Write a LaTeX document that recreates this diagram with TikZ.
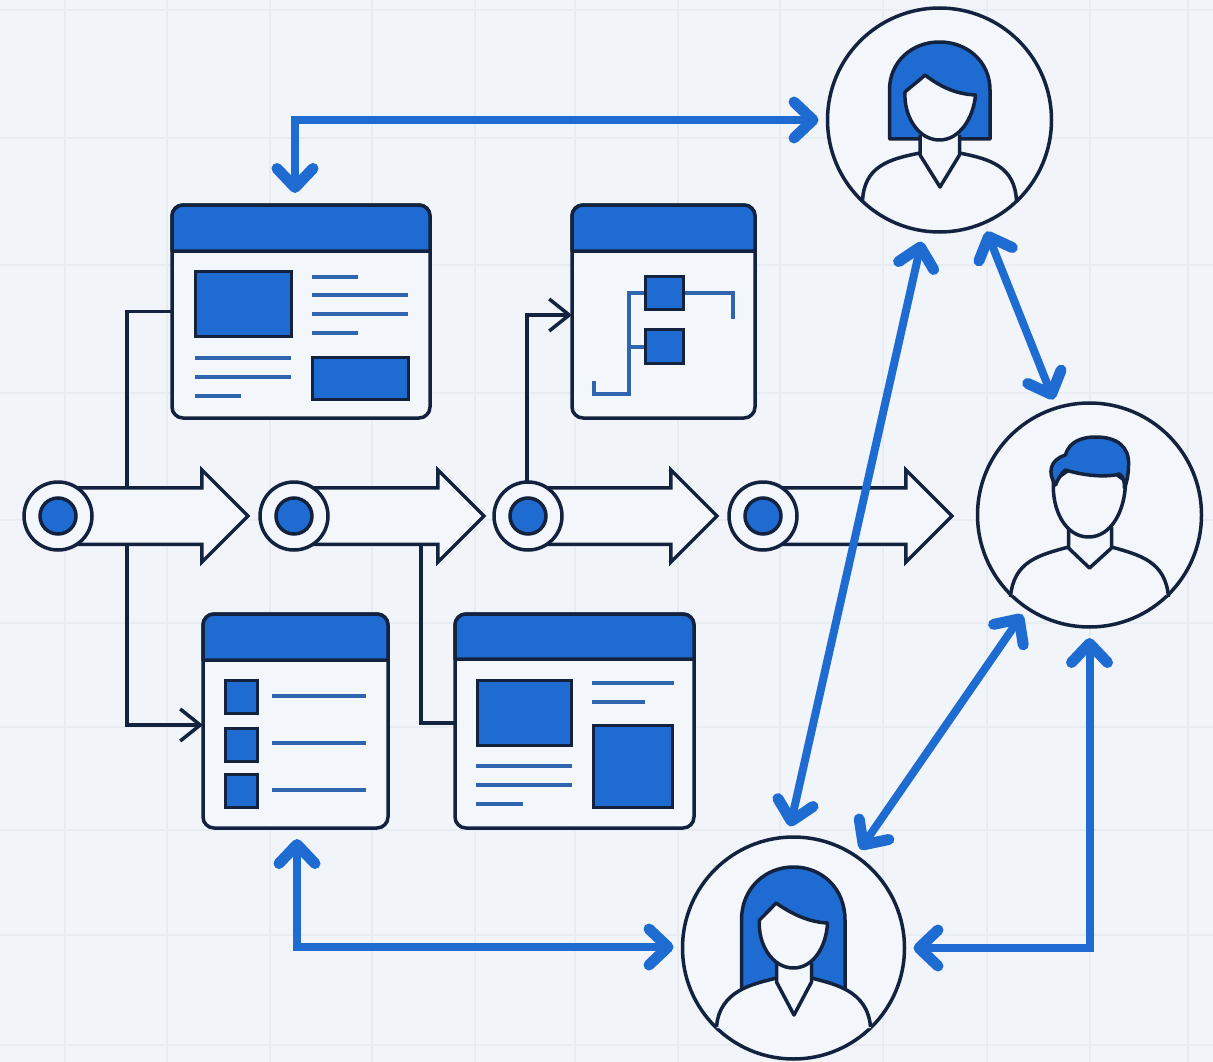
\documentclass[tikz,border=0pt]{standalone}
\usetikzlibrary{arrows.meta,shapes.arrows,calc}
\definecolor{bgc}{HTML}{F1F5FA}
\definecolor{gridc}{HTML}{E7ECF3}
\definecolor{inkc}{HTML}{13233F}
\definecolor{bluec}{HTML}{1E6CD2}
\definecolor{linec}{HTML}{2F65AE}
\definecolor{paperc}{HTML}{F3F6FA}
\tikzset{
  x=1pt,y=-1pt,
  gridline/.style={gridc,line width=1.2pt},
  windowbox/.style={draw=inkc,fill=paperc,line width=3.5pt,rounded corners=11pt,inner sep=0pt,outer sep=0pt},
  headerbar/.style={draw=inkc,fill=bluec,line width=3.5pt,line join=round},
  tile/.style={draw=inkc,fill=bluec,line width=3pt},
  textline/.style={linec,line width=4.5pt},
  personring/.style={circle,draw=inkc,fill=paperc,line width=3.5pt,minimum size=224pt,inner sep=0pt,outer sep=0pt},
  personline/.style={draw=inkc,fill=paperc,line width=3.5pt,line join=round},
  hairfill/.style={draw=inkc,fill=bluec,line width=3.5pt,line join=round},
  flowarrow/.style={single arrow,draw=inkc,fill=paperc,line width=3.5pt,minimum height=190pt,single arrow head extend=18pt,single arrow tip angle=90,single arrow head indent=0pt,inner xsep=0pt,inner ysep=26.5pt,outer sep=0pt,anchor=tip},
  stepring/.style={circle,draw=inkc,fill=paperc,line width=3.5pt,minimum size=68pt,inner sep=0pt,outer sep=0pt},
  stepdot/.style={circle,draw=inkc,fill=bluec,line width=3.5pt,minimum size=36pt,inner sep=0pt,outer sep=0pt},
  thinflow/.style={inkc,line width=3.5pt,line join=miter},
  thintip/.style={-{Straight Barb[length=20pt,width=32pt,line width=3.5pt]}},
  linkflow/.style={bluec,line width=8pt,line join=miter,
    {Straight Barb[length=19pt,width=36pt,line width=11pt,round]}-{Straight Barb[length=19pt,width=36pt,line width=11pt,round]}},
}
% #1 name, #2 left, #3 top, #4 right, #5 bottom, #6 header bottom
\newcommand{\windownode}[6]{%
  \node[windowbox,minimum width={#4-#2},minimum height={#5-#3},anchor=north west] (#1) at (#2,#3) {};
  \draw[headerbar] (#2,#6) -- (#2,#3+11) .. controls (#2,#3+5) and (#2+5,#3) .. (#2+11,#3) -- (#4-11,#3) .. controls (#4-5,#3) and (#4,#3+5) .. (#4,#3+11) -- (#4,#6) -- cycle;
}
\begin{document}
\begin{tikzpicture}
\useasboundingbox (0,0) rectangle (1213,1062);
\fill[bgc] (0,0) rectangle (1213,1062);
\foreach \gx in {65,167,270,372,475,575,678,780,883,987,1090,1188}
  \draw[gridline] (\gx,0) -- (\gx,1062);
\foreach \gy in {10,138,265,393,520,623,727,830,935,1045}
  \draw[gridline] (0,\gy) -- (1213,\gy);

% windows
\windownode{winA}{172}{205}{430}{418}{251}
\windownode{winB}{572}{205}{755}{418}{251}
\windownode{winC}{203}{614}{388}{828}{660}
\windownode{winD}{455}{614}{694}{828}{659}

% persons
\node[personring] (pT) at (939.5,120) {};
\node[personring] (pR) at (1089.5,515) {};
\node[personring,minimum size=222pt] (pB) at (793.5,948) {};

% thin branches (behind the flow arrows)
\coordinate (stemA) at (127,516);
\coordinate (stemB) at (421,516);
\draw[thinflow,thintip] (winA.west) -- (stemA |- winA.west) -- (stemA |- 0,725) -- (winC.west |- 0,725);
\draw[thinflow] (stemB) -- (stemB |- 0,723) -- (winD.west |- 0,723);
\coordinate (stemC) at (527,516);
\draw[thinflow,thintip] (stemC) -- (stemC |- 0,315) -- (winB.west |- 0,315);

% flow arrows and step rings
\foreach \nm/\tipx in {fA/248,fB/484,fC/717,fD/952}
  \node[flowarrow] (\nm) at (\tipx,516) {};
\foreach \nm/\cx in {sA/58,sB/294,sC/528,sD/763}{
  \node[stepring] (\nm) at (\cx,516) {};
  \node[stepdot] (\nm d) at (\cx,516) {};
}

% window contents: winA
\draw[tile] (195,271) rectangle (291,336);
\draw[tile] (312,357) rectangle (408,399);
\draw[textline] (312,277) -- (358,277);
\draw[textline] (312,295) -- (408,295);
\draw[textline] (312,314) -- (408,314);
\draw[textline] (312,333) -- (358,333);
\draw[textline] (195,358) -- (291,358);
\draw[textline] (195,377) -- (291,377);
\draw[textline] (195,396) -- (241,396);
% winB
\draw[linec,line width=4.5pt,line join=miter] (594,381) -- (594,394) -- (629,394) -- (629,293) -- (733,293) -- (733,319);
\draw[linec,line width=4.5pt] (629,347) -- (645,347);
\draw[tile] (645,276) rectangle (683,309);
\draw[tile] (645,329) rectangle (683,363);
% winC
\foreach \ty in {680,728,774}{
  \draw[tile] (225,\ty) rectangle (257,\ty+33);
}
\foreach \ty in {696,743,790}{
  \draw[textline] (272,\ty) -- (366,\ty);
}
% winD
\draw[tile] (477,680) rectangle (571,745);
\draw[tile] (593,725) rectangle (672,807);
\draw[textline] (592,683) -- (674,683);
\draw[textline] (592,702) -- (645,702);
\draw[textline] (476,766) -- (572,766);
\draw[textline] (476,785) -- (572,785);
\draw[textline] (476,804) -- (523,804);

% person top (woman, short hair)
\begin{scope}[shift={(pT.center)}]
  \draw[hairfill] (-50,19) -- (-50,-30) .. controls (-50,-58) and (-28,-78) .. (0,-78) .. controls (28,-78) and (50.5,-58) .. (50.5,-30) -- (50.5,19) -- cycle;
  \draw[personline] (-19.5,33) .. controls (-50,39) and (-76,46) .. (-77,82);
  \draw[personline] (20,33) .. controls (50,39) and (76,46) .. (77,82);
  \draw[personline] (-19.5,15) -- (-19.5,35) -- (0.5,67) -- (20,35) -- (20,15);
  \draw[personline] (-14.5,-45) .. controls (-22,-38) and (-28,-34) .. (-34.5,-28) .. controls (-36,-5) and (-22,20) .. (0,20) .. controls (20,20) and (34,-2) .. (36,-25) .. controls (15,-26) and (0,-34) .. (-14.5,-45) -- cycle;
\end{scope}
% person right (man)
\begin{scope}[shift={(pR.center)}]
  \draw[personline] (-21,32) .. controls (-50,40) and (-76,46) .. (-79,82);
  \draw[personline] (22,32) .. controls (50,40) and (76,46) .. (79,82);
  \draw[personline] (-21,12) -- (-21,33) -- (0,53) -- (22,33) -- (22,12);
  \draw[personline] (-36,-34) .. controls (-38,-5) and (-24,22) .. (-1,22) .. controls (22,22) and (36,-5) .. (36,-34) -- (0,-60) -- cycle;
  \draw[hairfill] (-34,-30) .. controls (-42,-42) and (-40,-55) .. (-24,-60) .. controls (-20,-75) and (-5,-78) .. (6,-78) .. controls (28,-78) and (40,-68) .. (39,-50) .. controls (39,-42) and (38,-35) .. (35,-27) .. controls (35,-34) and (34,-38) .. (30,-41) .. controls (15,-37) and (-8,-40) .. (-24,-45) .. controls (-28,-42) and (-31,-37) .. (-34,-30) -- cycle;
\end{scope}
% person bottom (woman, long hair)
\begin{scope}[shift={(pB.center)}]
  \draw[hairfill] (-52,42) -- (-52,-28) .. controls (-52,-60) and (-28,-81) .. (0,-81) .. controls (28,-81) and (51.5,-60) .. (51.5,-28) -- (51.5,42) -- cycle;
  \draw[fill=paperc,draw=none] (-77,80) -- (-73,52) -- (-17,30) -- (18,30) -- (73,52) -- (77,80) -- cycle;
  \fill[paperc] (-77,60) rectangle (77,80);
  \draw[personline] (-17,30) .. controls (-40,36) and (-74,42) .. (-77,79);
  \draw[personline] (18,30) .. controls (40,36) and (74,42) .. (77,79);
  \draw[personline] (-17,15) -- (-17,34) -- (0.5,67) -- (18,34) -- (18,15);
  \draw[personline] (-17.5,-45) .. controls (-24,-38) and (-28,-34) .. (-34,-28) .. controls (-36,-5) and (-22,20) .. (0,20) .. controls (20,20) and (33,-2) .. (34,-25) .. controls (14,-26) and (-3,-35) .. (-17.5,-45) -- cycle;
\end{scope}

% blue links
\draw[linkflow,shorten >=9pt] (winA.north -| 295,0) ++(0,-12) -- (295,120) -- (pT.west);
\draw[linkflow,shorten >=9pt] (winC.south -| 297,0) ++(0,11) -- (297,947) -- (pB.west |- 0,947);
\draw[linkflow,shorten >=9pt,shorten <=11pt] (pR.south) -- (pR.south |- pB.east) -- (pB.east);
\draw[linkflow,shorten >=11pt,shorten <=11pt] (pT.-98) -- (pB.93);
\draw[linkflow,shorten >=9pt,shorten <=9pt] (pT.-67) -- (pR.107.5);
\draw[linkflow,shorten >=8pt,shorten <=8pt] (pR.-124) -- (pB.56);
\end{tikzpicture}
\end{document}
